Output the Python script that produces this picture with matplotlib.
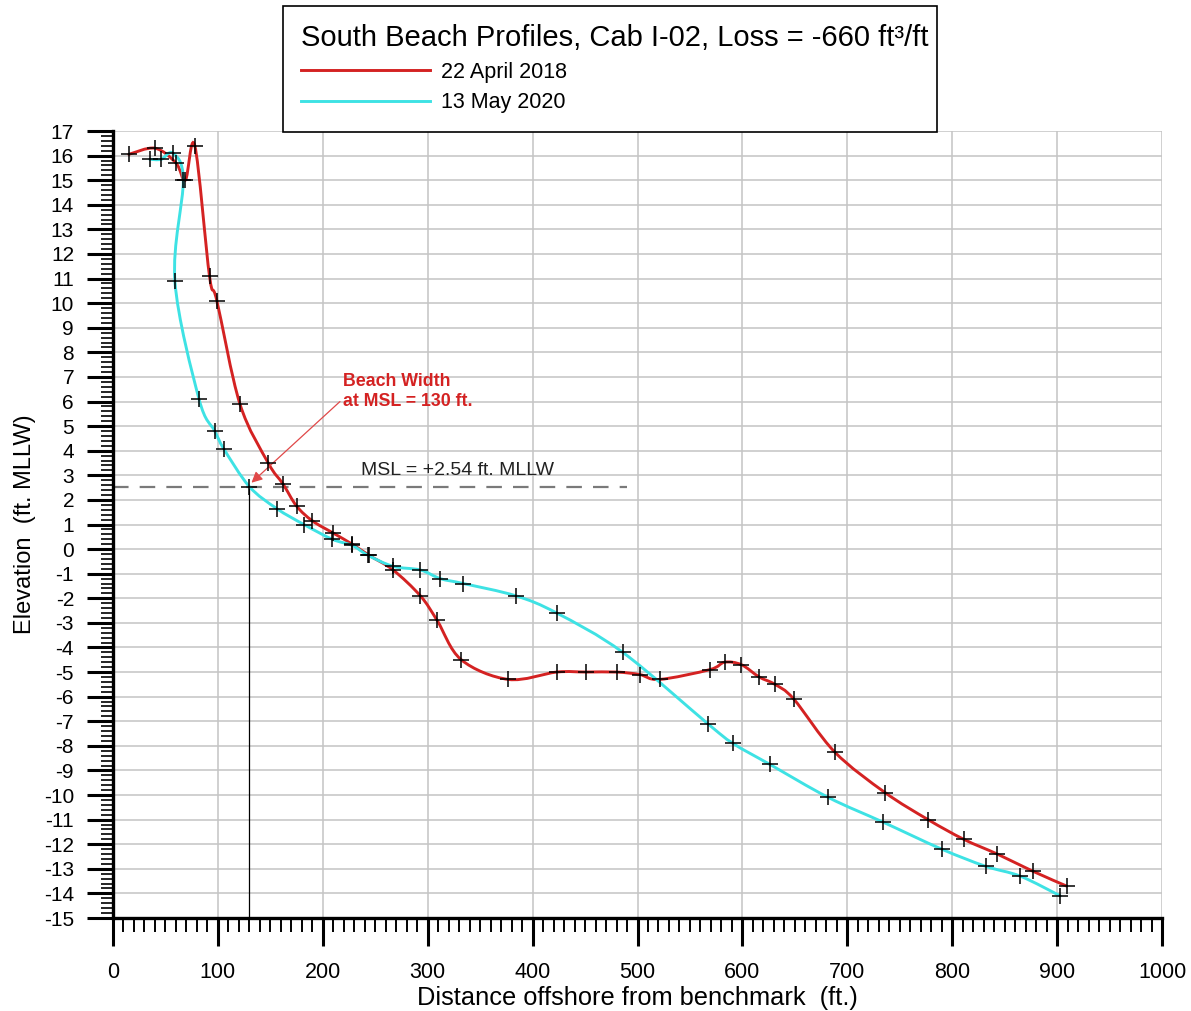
import numpy as np
import matplotlib
matplotlib.use("Agg")
import matplotlib.pyplot as plt
from matplotlib.path import Path
from matplotlib.patches import PathPatch
from matplotlib.lines import Line2D
from matplotlib.ticker import MultipleLocator

plt.rcParams["axes.unicode_minus"] = False
plt.rcParams["font.family"] = ["Liberation Sans", "DejaVu Sans"]

# survey points (distance ft, elevation ft MLLW)
april_2018_x = [15, 40, 60, 69, 78, 92, 99, 121, 148, 162, 175, 190, 210, 228, 244,
                267, 293, 309, 332, 377, 423, 451, 480, 502, 521, 569, 583, 599, 616,
                631, 649, 688, 736, 777, 811, 843, 877, 909]
april_2018_y = [16.05, 16.3, 15.7, 15.0, 16.4, 11.1, 10.1, 5.9, 3.5, 2.65, 1.75, 1.15,
                0.65, 0.2, -0.25, -0.85, -1.9, -2.9, -4.5, -5.3, -5.0, -5.0, -5.0, -5.1,
                -5.3, -4.9, -4.6, -4.7, -5.2, -5.5, -6.1, -8.25, -9.9, -11.0, -11.8,
                -12.4, -13.1, -13.7]

may_2020_x = [35, 46, 57, 67, 59, 82, 97, 106, 130, 156, 182, 209, 228, 243, 267, 293,
              312, 334, 384, 423, 486, 567, 591, 626, 682, 734, 790, 832, 865, 903]
may_2020_y = [15.85, 15.85, 16.1, 15.0, 10.9, 6.1, 4.8, 4.05, 2.54, 1.65, 1.0, 0.4,
              0.15, -0.25, -0.7, -0.85, -1.2, -1.4, -1.9, -2.6, -4.2, -7.1, -7.9,
              -8.75, -10.1, -11.1, -12.2, -12.9, -13.3, -14.1]

labels = ["22 April 2018", "13 May 2020"]
title = "South Beach Profiles, Cab I-02, Loss = -660 ft\u00b3/ft"
msl = 2.54
beach_width = 130

RED = "#d42222"
CYAN = "#3ee2e4"


def smooth_path(xs, ys):
    # Catmull-Rom through the survey points, drawn as cubic Bezier segments
    pts = np.column_stack([xs, ys]).astype(float)
    p = np.vstack([pts[0], pts, pts[-1]])
    verts = [pts[0]]
    codes = [Path.MOVETO]
    for i in range(1, len(p) - 2):
        p0, p1, p2, p3 = p[i - 1], p[i], p[i + 1], p[i + 2]
        verts += [p1 + (p2 - p0) / 6.0, p2 - (p3 - p1) / 6.0, p2]
        codes += [Path.CURVE4] * 3
    return Path(verts, codes)


fig = plt.figure(figsize=(11.91, 10.11), dpi=100)
ax = fig.add_axes([113 / 1191, 1 - 918 / 1011, 1049 / 1191, 787 / 1011])

ax.set_xlim(0, 1000)
ax.set_ylim(-15, 17)

ax.xaxis.set_major_locator(MultipleLocator(100))
ax.xaxis.set_minor_locator(MultipleLocator(10))
ax.yaxis.set_major_locator(MultipleLocator(1))
ax.yaxis.set_minor_locator(MultipleLocator(0.2))
ax.grid(True, which="major", color="#c4c4c4", lw=1.1, zorder=0)

for s in ("top", "right"):
    ax.spines[s].set_visible(False)
for s in ("left", "bottom"):
    ax.spines[s].set_linewidth(2.4)

ax.tick_params(axis="x", which="major", direction="out", length=20, width=2.2, pad=12,
               labelsize=15.5)
ax.tick_params(axis="x", which="minor", direction="out", length=10, width=1.4)
ax.tick_params(axis="y", which="major", direction="out", length=19, width=2.2, pad=9,
               labelsize=15)
ax.tick_params(axis="y", which="minor", direction="out", length=9, width=1.2)

ax.set_xlabel("Distance offshore from benchmark  (ft.)", fontsize=18.3, labelpad=2)
ax.set_ylabel("Elevation  (ft. MLLW)", fontsize=17, labelpad=6)

# MSL reference and beach width
ax.plot([0, 490], [msl, msl], color="#7a7a7a", lw=1.6, dashes=(7, 5), zorder=2)
ax.text(236, msl + 0.3, "MSL = +2.54 ft. MLLW", fontsize=14, color="#222222",
        va="bottom")
ax.plot([beach_width, beach_width], [-15, msl], color="black", lw=0.9, zorder=2)

for xs, ys, c in ((april_2018_x, april_2018_y, RED), (may_2020_x, may_2020_y, CYAN)):
    ax.add_patch(PathPatch(smooth_path(xs, ys), facecolor="none", edgecolor=c,
                           lw=2.1, zorder=3, capstyle="round"))
    ax.plot(xs, ys, "+", color="black", ms=12, mew=1.1, zorder=4)

ax.annotate("Beach Width\nat MSL = 130 ft.", xy=(132, 2.7), xytext=(219, 6.4),
            fontsize=12.8, fontweight="bold", color=RED,
            ha="left", va="center", linespacing=1.2,
            arrowprops=dict(arrowstyle="-|>", color="#e04848", lw=0.9,
                            mutation_scale=16, shrinkA=0, shrinkB=0,
                            relpos=(0.0, 0.3)))

handles = [Line2D([], [], color=RED, lw=2.1), Line2D([], [], color=CYAN, lw=2.1)]
leg = ax.legend(handles, labels, title=title, loc="upper left",
                bbox_to_anchor=(283 / 1191, 1 - 7 / 1011, 654 / 1191, 0.001),
                bbox_transform=fig.transFigure, mode="expand", alignment="left",
                borderaxespad=0, fancybox=False, framealpha=1, edgecolor="black",
                borderpad=0.85, handlelength=6.0, handletextpad=0.5,
                labelspacing=0.44, prop={"size": 15.5},
                title_fontproperties={"size": 21})
leg.get_frame().set_linewidth(1.2)

fig.savefig("out.png", dpi=100)
